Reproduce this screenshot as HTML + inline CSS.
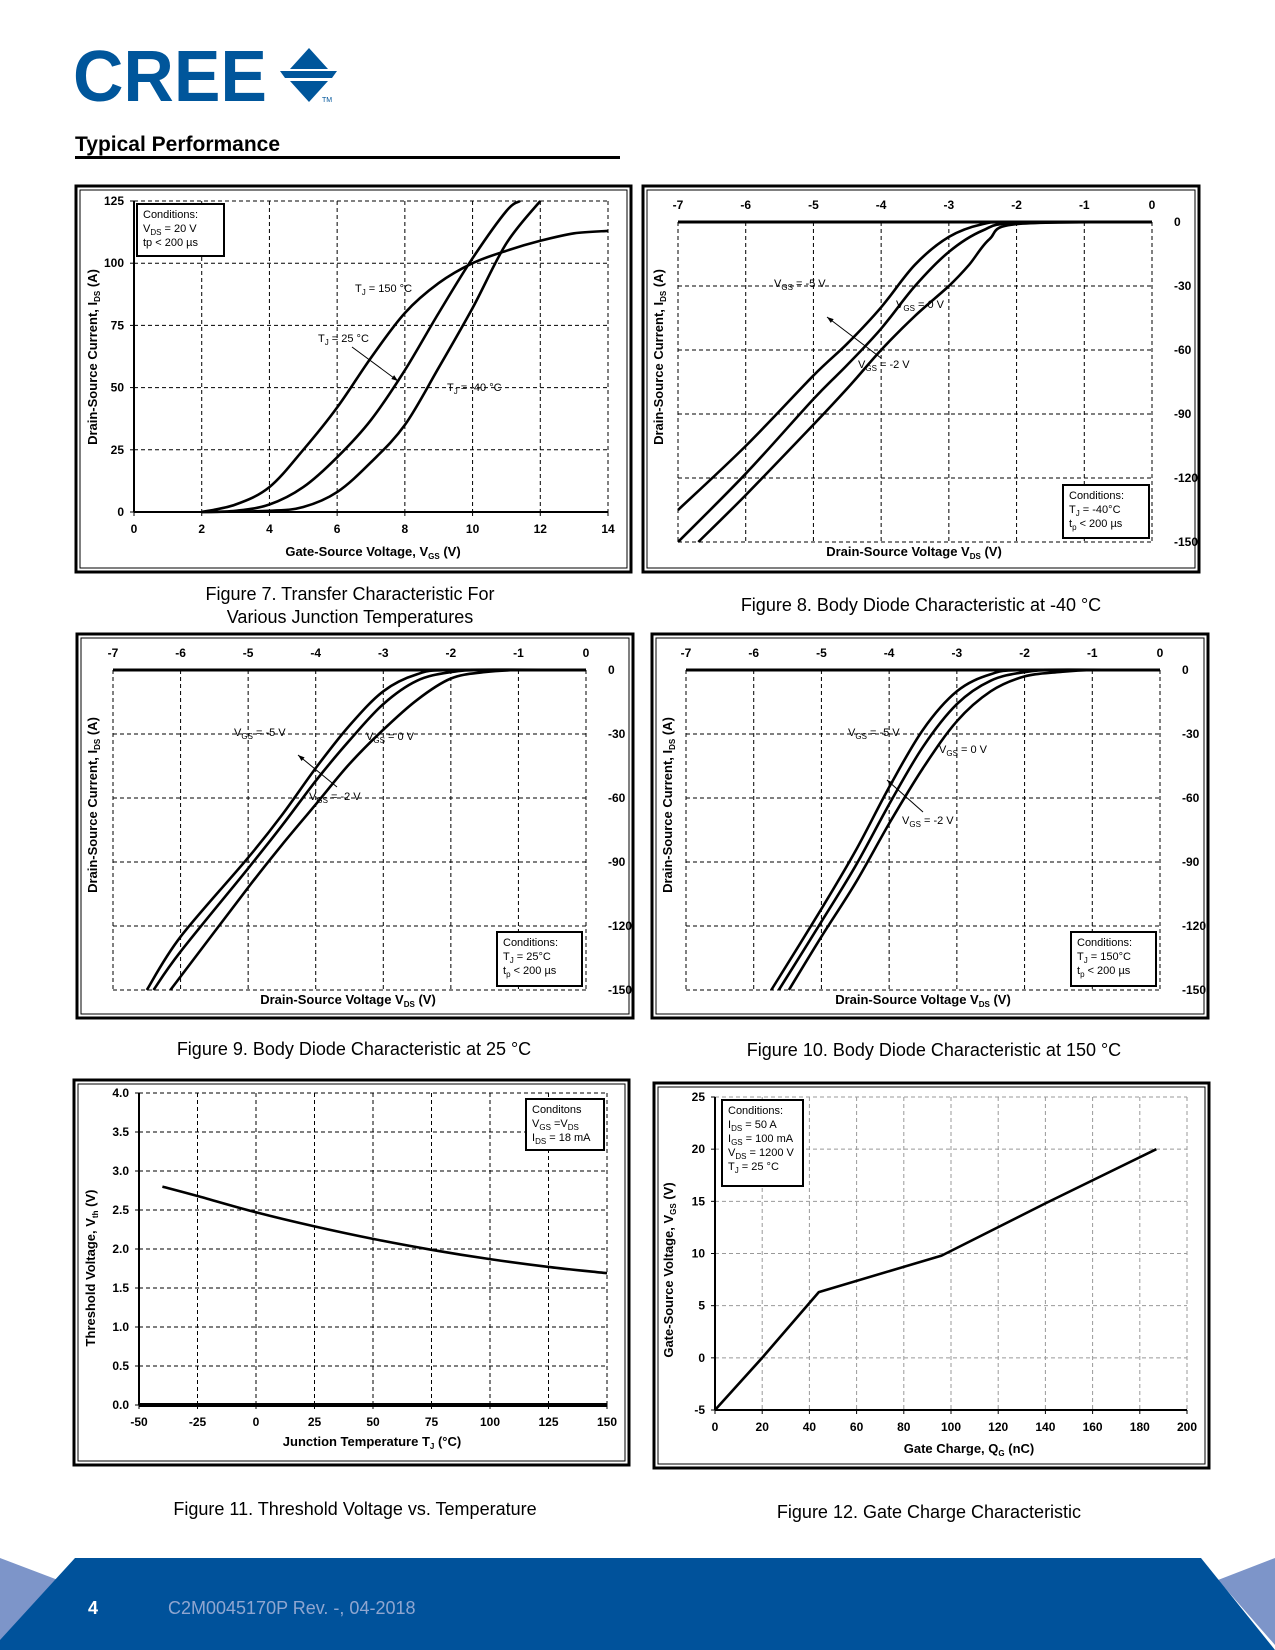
<!DOCTYPE html>
<html><head><meta charset="utf-8"><style>
body{margin:0;background:#fff}
svg{display:block;font-family:"Liberation Sans",sans-serif}
.tk{font-size:12px;font-weight:bold}
.ti{font-size:13px;font-weight:bold}
.an{font-size:11px}
.cap{font-size:18px}
</style></head><body>
<svg id="pg" width="1275" height="1650" viewBox="0 0 1275 1650" xmlns="http://www.w3.org/2000/svg">
<g>
<text x="73" y="101" font-size="72" font-weight="bold" fill="#00569b" textLength="194" lengthAdjust="spacingAndGlyphs">CREE</text>
<polygon points="309,48 290,69 328,69" fill="#00569b"/>
<polygon points="280,71 337,71 332,78 285,78" fill="#00569b"/>
<polygon points="290,81 328,81 309,102" fill="#00569b"/>
<text x="322" y="102" font-size="7" fill="#00569b">TM</text>
</g>
<text x="75" y="151" font-size="21" font-weight="bold">Typical Performance</text>
<rect x="75" y="156" width="545" height="3" fill="#000"/>
<g id="charts"></g>
<g>
<text class="cap" x="350" y="600" text-anchor="middle">Figure 7.  Transfer Characteristic For</text>
<text class="cap" x="350" y="623" text-anchor="middle">Various Junction Temperatures</text>
<text class="cap" x="921" y="611" text-anchor="middle">Figure 8.  Body Diode Characteristic at -40 °C</text>
<text class="cap" x="354" y="1055" text-anchor="middle">Figure 9.  Body Diode Characteristic at 25 °C</text>
<text class="cap" x="934" y="1056" text-anchor="middle">Figure 10.  Body Diode Characteristic at 150 °C</text>
<text class="cap" x="355" y="1515" text-anchor="middle">Figure 11.  Threshold Voltage vs. Temperature</text>
<text class="cap" x="929" y="1518" text-anchor="middle">Figure 12.  Gate Charge Characteristic</text>
</g>
<g>
<polygon points="0,1558 58,1580 0,1645" fill="#7d95c9"/>
<polygon points="1275,1558 1218,1580 1275,1645" fill="#7d95c9"/>
<polygon points="75,1558 1201,1558 1275,1650 0,1650 0,1640" fill="#00529b"/>
<text x="88" y="1614" font-size="18" font-weight="bold" fill="#fff">4</text>
<text x="168" y="1614" font-size="18" fill="#8fa6d0">C2M0045170P Rev. -,   04-2018</text>
</g>
</svg>
<script>
// Figure 7 data
const f7Vgs150=[2,3,4,5,6,7,8,9,10,11,12,13,14];
const f7I150=[0,3,10,25,42,62,80,92,100,105,109,112,113];
const f7Vgs25=[2,3,4,5,6,7,8,9,10,11,11.4];
const f7I25=[0,0.5,3,10,22,37,57,80,102,121,125];
const f7VgsM40=[2,4,5,6,7,8,9,10,11,12];
const f7IM40=[0,0.5,2,8,20,35,58,82,108,125];
// Figure 8 data (-40C)
const f8V5=[-7,-6,-5,-4.5,-4,-3.5,-3,-2.5,-2,0];
const f8I5=[-135,-105,-72,-57,-40,-20,-7,-1,0,0];
const f8V2=[-7,-6,-5,-4.5,-4,-3.5,-3,-2.5,-2,0];
const f8I2=[-150,-118,-83,-67,-50,-30,-14,-4,-0.5,0];
const f8V0=[-6.7,-6,-5,-4.5,-4,-3.5,-3,-2.7,-2.4,-2,0];
const f8I0=[-150,-128,-95,-78,-60,-44,-30,-20,-8,-1,0];
// Figure 9 data (25C)
const f9V5=[-6.5,-6,-5,-4.5,-4,-3.5,-3,-2.5,-2,0];
const f9I5=[-150,-125,-88,-68,-46,-26,-10,-2,0,0];
const f9V2=[-6.4,-6,-5,-4.5,-4,-3.5,-3,-2.5,-2,-1.5,0];
const f9I2=[-150,-132,-93,-73,-52,-33,-16,-5,-1,0,0];
const f9V0=[-6.15,-5,-4.5,-4,-3.5,-3,-2.5,-2,-1.5,-1,0];
const f9I0=[-150,-102,-82,-63,-44,-28,-14,-4,-1,0,0];
// Figure 10 data (150C)
const f10V5=[-5.74,-5,-4.5,-4,-3.5,-3,-2.5,-2,0];
const f10I5=[-150,-112,-85,-55,-28,-10,-2,0,0];
const f10V2=[-5.63,-5,-4.5,-4,-3.5,-3,-2.5,-2,-1.5,0];
const f10I2=[-150,-118,-92,-63,-36,-16,-5,-1,0,0];
const f10V0=[-5.48,-5,-4.5,-4,-3.5,-3,-2.5,-2,-1.5,-1,0];
const f10I0=[-150,-125,-100,-72,-46,-24,-10,-3,-1,0,0];
// Figure 11 data
const f11T=[-40,-25,0,25,50,75,100,125,150];
const f11Vth=[2.8,2.68,2.47,2.29,2.13,1.99,1.87,1.77,1.69];
// Figure 12 data
const f12Q=[0,20,44,96,140,187];
const f12V=[-5,0,6.3,9.8,14.8,20];
// tick labels
const f7Xt=[0,2,4,6,8,10,12,14], f7Yt=[0,25,50,75,100,125];
const bdXt=[-7,-6,-5,-4,-3,-2,-1,0], bdYt=[0,-30,-60,-90,-120,-150];
const f11Xt=[-50,-25,0,25,50,75,100,125,150], f11Yt=[0,0.5,1,1.5,2,2.5,3,3.5,4];
const f12Xt=[0,20,40,60,80,100,120,140,160,180,200], f12Yt=[-5,0,5,10,15,20,25];

const NS='http://www.w3.org/2000/svg';
const root=document.getElementById('charts');
function el(tag,attrs,parent){const e=document.createElementNS(NS,tag);for(const k in attrs)e.setAttribute(k,attrs[k]);(parent||root).appendChild(e);return e;}

function smoothPath(pts,smooth){
  if(!smooth) return pts.map((p,i)=>(i?'L':'M')+p[0].toFixed(1)+','+p[1].toFixed(1)).join('');
  let d='M'+pts[0][0].toFixed(1)+','+pts[0][1].toFixed(1);
  for(let i=0;i<pts.length-1;i++){
    const p0=pts[i-1]||pts[i],p1=pts[i],p2=pts[i+1],p3=pts[i+2]||p2;
    const c1=[p1[0]+(p2[0]-p0[0])/6,p1[1]+(p2[1]-p0[1])/6];
    const c2=[p2[0]-(p3[0]-p1[0])/6,p2[1]-(p3[1]-p1[1])/6];
    d+='C'+c1.map(v=>v.toFixed(1))+' '+c2.map(v=>v.toFixed(1))+' '+p2.map(v=>v.toFixed(1));
  }
  return d;
}

function chart(c){
  const g=el('g',{});
  
  
  const fr=el('rect',{x:c.fx0,y:c.fy0,width:c.fx1-c.fx0,height:c.fy1-c.fy0,fill:'none',stroke:'#000','stroke-width':3},g);
  
  
  el('rect',{x:c.fx0+4,y:c.fy0+4,width:c.fx1-c.fx0-8,height:c.fy1-c.fy0-8,fill:'none',stroke:'#000','stroke-width':1},g);
  const sx=v=>c.px0+(v-c.xmin)/(c.xmax-c.xmin)*(c.px1-c.px0);
  const sy=v=>c.py0+(v-c.ymin)/(c.ymax-c.ymin)*(c.py1-c.py0);
  const gc=c.gridColor||'#000';
  const top=Math.min(c.py0,c.py1), bot=Math.max(c.py0,c.py1);
  c.xt.forEach(v=>{
    const gl=el('line',{x1:sx(v),x2:sx(v),y1:c.py0,y2:c.py1,stroke:gc,'stroke-width':1,'stroke-dasharray':'4,3'},g);
    
    
    const t=el('text',{x:sx(v),y:c.xTop?top-13:bot+21,'text-anchor':'middle',class:'tk'},g);
    t.textContent=v;
    
    
  });
  c.yt.forEach(v=>{
    const gl=el('line',{x1:c.px0,x2:c.px1,y1:sy(v),y2:sy(v),stroke:gc,'stroke-width':1,'stroke-dasharray':'4,3'},g);
    
    
    const t=el('text',{x:c.yRight?c.px1+22:c.px0-10,y:sy(v)+4,'text-anchor':c.yRight?'start':'end',class:'tk'},g);
    t.textContent=c.yFmt?c.yFmt(v):v;
    
    
  });
  if(c.xTop){
    el('line',{x1:c.px0,x2:c.px1,y1:sy(0),y2:sy(0),stroke:'#000','stroke-width':3},g);
  }else{
    el('line',{x1:c.px0,x2:c.px0,y1:top,y2:bot,stroke:'#000','stroke-width':2},g);
    el('line',{x1:c.px0,x2:c.px1,y1:bot,y2:bot,stroke:'#000','stroke-width':c.thickX?4:2},g);
    c.xt.forEach(v=>el('line',{x1:sx(v),x2:sx(v),y1:bot,y2:bot+4,stroke:'#000'},g));
    c.yt.forEach(v=>el('line',{x1:c.px0-4,x2:c.px0,y1:sy(v),y2:sy(v),stroke:'#000'},g));
  }
  c.series.forEach(s=>{
    const pts=s.x.map((v,i)=>[sx(v),sy(s.y[i])]);
    const p=el('path',{d:smoothPath(pts,c.smooth),fill:'none',stroke:'#000','stroke-width':2.6,'stroke-linejoin':'round'},g);
    
    
  });
  return g;
}
function rich(g,x,y,parts,cls,anchor,rot){
  const t=el('text',{x:x,y:y,class:cls,'text-anchor':anchor||'start'},g);
  if(rot)t.setAttribute('transform','rotate(-90 '+x+' '+y+')');
  parts.forEach(p=>{const ts=el('tspan',p[1]?{'font-size':'8','dy':'3'}:{dy: p[2]?'-3':'0'},t);ts.textContent=p[0];});
  return t;
}
function sub(a){return a.map(s=>s.startsWith('_')?[s.slice(1),1]:[s,0,0]).map((p,i,arr)=>{ if(!p[1]&&i>0&&arr[i-1][1]) p[2]=1; return p;});}
function box(g,x,y,w,h,lines){
  const r=el('rect',{x:x,y:y,width:w,height:h,fill:'#fff',stroke:'#000','stroke-width':2},g);
  
  
  lines.forEach((l,i)=>rich(g,x+6,y+14+i*14,sub(l),'an','start'));
}
function arrow(g,x1,y1,x2,y2){
  el('line',{x1:x1,y1:y1,x2:x2,y2:y2,stroke:'#000','stroke-width':1},g);
  const a=Math.atan2(y2-y1,x2-x1),L=7;
  el('polygon',{points:[x2,y2,x2-L*Math.cos(a-0.35),y2-L*Math.sin(a-0.35),x2-L*Math.cos(a+0.35),y2-L*Math.sin(a+0.35)].join(','),fill:'#000'},g);
}

// Fig 7
let g=chart({name:'figure-7-transfer-chart',smooth:true,fx0:76,fy0:186,fx1:631,fy1:572,px0:134,px1:608,py0:201,py1:512,xmin:0,xmax:14,ymin:125,ymax:0,xt:f7Xt,yt:f7Yt,
 series:[{name:'tj-150-curve',x:f7Vgs150,y:f7I150},{name:'tj-25-curve',x:f7Vgs25,y:f7I25},{name:'tj-minus40-curve',x:f7VgsM40,y:f7IM40}]});
box(g,137,204,87,52,[['Conditions:'],['V','_DS',' = 20 V'],['tp < 200 µs']]);
rich(g,355,292,sub(['T','_J',' = 150 °C']),'an');
rich(g,318,342,sub(['T','_J',' = 25 °C']),'an');
arrow(g,352,347,398,381);
rich(g,447,391,sub(['T','_J',' = -40 °C']),'an');
rich(g,373,556,sub(['Gate-Source Voltage, V','_GS',' (V)']),'ti','middle');
rich(g,97,357,sub(['Drain-Source Current, I','_DS',' (A)']),'ti','middle',true);

function bd(name,fx0,fy0,fx1,fy1,px0,px1,py0,py1,s5,s2,s0,cond,ann,ytx,xtx){
  const g=chart({name:name,smooth:true,fx0:fx0,fy0:fy0,fx1:fx1,fy1:fy1,px0:px0,px1:px1,py0:py0,py1:py1,xmin:-7,xmax:0,ymin:0,ymax:-150,xt:bdXt,yt:bdYt,xTop:true,yRight:true,
   series:[{name:'vgs-minus5-curve',x:s5[0],y:s5[1]},{name:'vgs-minus2-curve',x:s2[0],y:s2[1]},{name:'vgs-0-curve',x:s0[0],y:s0[1]}]});
  box(g,cond[0],cond[1],cond[2]-cond[0],cond[3]-cond[1],[['Conditions:'],['T','_J',' = '+cond[4]],['t','_p',' < 200 µs']]);
  rich(g,ann[0],ann[1],sub(['V','_GS',' = -5 V']),'an');
  rich(g,ann[2],ann[3],sub(['V','_GS',' = 0 V']),'an');
  rich(g,ann[4],ann[5],sub(['V','_GS',' = -2 V']),'an');
  arrow(g,ann[6],ann[7],ann[8],ann[9]);
  rich(g,xtx[0],xtx[1],sub(['Drain-Source Voltage V','_DS',' (V)']),'ti','middle');
  rich(g,ytx[0],ytx[1],sub(['Drain-Source Current, I','_DS',' (A)']),'ti','middle',true);
}
bd('figure-8-body-diode-minus40',643,186,1199,572,678,1152,222,542,[f8V5,f8I5],[f8V2,f8I2],[f8V0,f8I0],[1063,485,1149,538,'-40°C'],[774,287,896,308,858,368,881,358,827,317],[663,357],[914,556]);
bd('figure-9-body-diode-25',77,634,633,1018,113,586,670,990,[f9V5,f9I5],[f9V2,f9I2],[f9V0,f9I0],[497,932,582,986,'25°C'],[234,736,366,740,309,800,337,787,298,755],[97,805],[348,1004]);
bd('figure-10-body-diode-150',652,634,1208,1018,686,1160,670,990,[f10V5,f10I5],[f10V2,f10I2],[f10V0,f10I0],[1071,932,1156,986,'150°C'],[848,736,939,753,902,824,923,812,887,780],[672,805],[923,1004]);

// Fig 11
g=chart({name:'figure-11-threshold-voltage',smooth:true,fx0:74,fy0:1080,fx1:629,fy1:1465,px0:139,px1:607,py0:1093,py1:1405,xmin:-50,xmax:150,ymin:4,ymax:0,xt:f11Xt,yt:f11Yt,thickX:true,yFmt:v=>v.toFixed(1),
 series:[{name:'vth-curve',x:f11T,y:f11Vth}]});
box(g,526,1099,78,51,[['Conditons'],['V','_GS',' =V','_DS'],['I','_DS',' = 18 mA']]);
rich(g,372,1446,sub(['Junction Temperature T','_J',' (°C)']),'ti','middle');
rich(g,95,1268,sub(['Threshold Voltage, V','_th',' (V)']),'ti','middle',true);

// Fig 12
g=chart({name:'figure-12-gate-charge',fx0:654,fy0:1083,fx1:1209,fy1:1468,px0:715,px1:1187,py0:1097,py1:1410,xmin:0,xmax:200,ymin:25,ymax:-5,xt:f12Xt,yt:f12Yt,gridColor:'#999',
 series:[{name:'vgs-vs-qg-curve',x:f12Q,y:f12V}]});
box(g,722,1100,81,86,[['Conditions:'],['I','_DS',' = 50 A'],['I','_GS',' = 100 mA'],['V','_DS',' = 1200 V'],['T','_J',' = 25 °C']]);
rich(g,969,1453,sub(['Gate Charge, Q','_G',' (nC)']),'ti','middle');
rich(g,673,1270,sub(['Gate-Source Voltage, V','_GS',' (V)']),'ti','middle',true);
</script>
</body></html>
